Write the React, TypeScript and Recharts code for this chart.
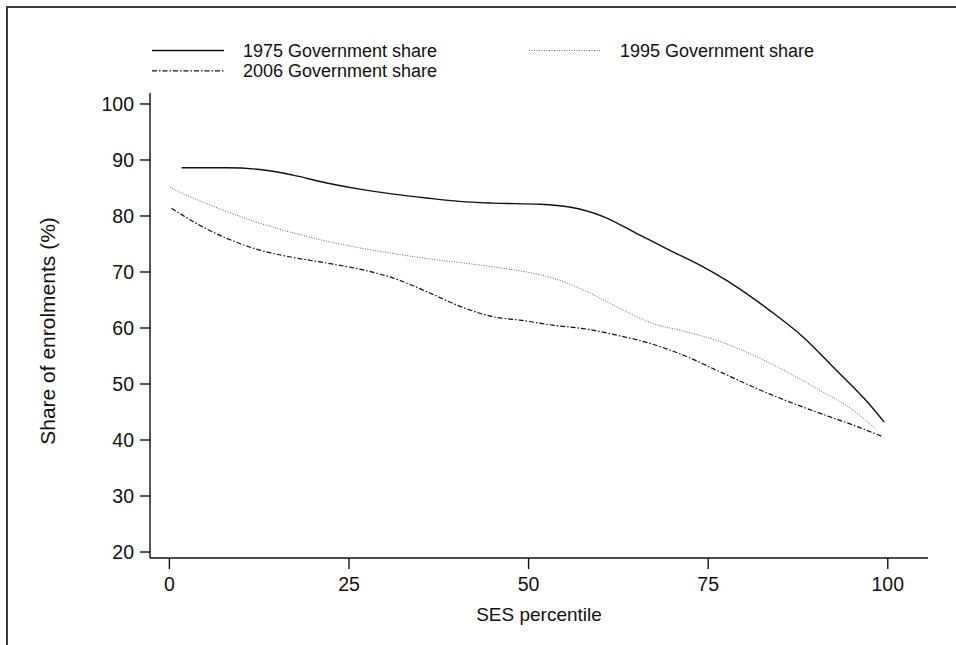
import { CartesianGrid, Legend, Line, LineChart, XAxis, YAxis } from "recharts";

// SES percentile / government share of enrolments (%), per year
const ses1975 = [1.7, 8, 12.6, 17.2, 21.9, 26.5, 31.2, 35.8, 40.4, 45.1, 51.6, 55.7, 60.4, 65.0, 69.6, 74.3, 78.9, 83.5, 88.2, 92.8, 97.5, 99.5];
const gov1975 = [88.6, 88.6, 88.3, 87.3, 85.9, 84.8, 83.9, 83.2, 82.6, 82.3, 82.1, 81.6, 79.9, 76.9, 73.9, 70.9, 67.4, 63.2, 58.4, 52.5, 46.3, 43.2];

const ses1995 = [0.1, 3.3, 8.0, 12.6, 17.2, 21.9, 26.5, 31.2, 35.8, 40.4, 45.1, 48.8, 53.4, 58.1, 62.7, 67.3, 72.0, 76.6, 81.2, 85.9, 90.5, 95.1, 98.4];
const gov1995 = [85.1, 83.2, 80.8, 78.7, 77.0, 75.5, 74.3, 73.3, 72.4, 71.7, 70.9, 70.2, 68.9, 66.5, 63.5, 60.8, 59.3, 57.6, 55.2, 52.2, 48.9, 45.4, 41.9];

const ses2006 = [0.3, 3.3, 8.0, 12.6, 17.2, 21.9, 26.5, 31.2, 35.8, 40.4, 45.1, 48.8, 53.4, 58.1, 62.7, 67.3, 72.0, 76.6, 81.2, 85.9, 90.5, 95.1, 99.3];
const gov2006 = [81.4, 79.0, 76.0, 73.9, 72.6, 71.6, 70.5, 68.9, 66.5, 63.9, 62.0, 61.4, 60.5, 59.8, 58.6, 57.1, 54.9, 52.2, 49.5, 47.0, 44.8, 42.7, 40.6];

const xTicks = [0, 25, 50, 75, 100];
const yTicks = [20, 30, 40, 50, 60, 70, 80, 90, 100];

const toPoints = (xs: number[], ys: number[]) =>
  xs.map((ses, i) => ({ ses, share: ys[i] }));

const data1975 = toPoints(ses1975, gov1975);
const data1995 = toPoints(ses1995, gov1995);
const data2006 = toPoints(ses2006, gov2006);

const FONT = "'Liberation Sans', Arial, Helvetica, sans-serif";

const solid = { stroke: "#111", strokeWidth: 1.4 };
const dotted = { stroke: "#666", strokeWidth: 1, strokeDasharray: "1 1.5" };
const dashDot = { stroke: "#111", strokeWidth: 1.2, strokeDasharray: "5 2 1.5 2" };

const legendKeys = [
  { label: "1975 Government share", x: 152, y: 50.5, style: solid },
  { label: "1995 Government share", x: 529, y: 50.5, style: dotted },
  { label: "2006 Government share", x: 152, y: 70.8, style: dashDot },
];

function Label({
  x,
  y,
  anchor = "start",
  size = 19,
  rotate = 0,
  children,
}: {
  x: number;
  y: number;
  anchor?: "start" | "middle" | "end";
  size?: number;
  rotate?: number;
  children: React.ReactNode;
}) {
  return (
    <text
      x={x}
      y={y}
      transform={rotate ? `rotate(${rotate} ${x} ${y})` : undefined}
      textAnchor={anchor}
      dominantBaseline="central"
      fontFamily={FONT}
      fontSize={size}
      fill="#111"
    >
      {children}
    </text>
  );
}

function renderLegend() {
  return (
    <svg width={956} height={90} style={{ display: "block" }}>
      {legendKeys.map((k) => (
        <g key={k.label}>
          <line x1={k.x} x2={k.x + 72} y1={k.y} y2={k.y} {...k.style} />
          <Label x={k.x + 91} y={k.y} size={18}>
            {k.label}
          </Label>
        </g>
      ))}
    </svg>
  );
}

const XTick = ({ x, y, payload }: any) => (
  <Label x={x} y={y + 15} anchor="middle" size={19.5}>
    {payload.value}
  </Label>
);

const YTick = ({ x, y, payload }: any) => (
  <Label x={x} y={y} anchor="end" size={19.5}>
    {payload.value}
  </Label>
);

export default function App() {
  return (
    <div
      style={{
        position: "absolute",
        left: 0,
        top: 0,
        width: 956,
        height: 645,
        background: "#fff",
        overflow: "hidden",
      }}
    >
      <div
        style={{
          position: "absolute",
          left: 6,
          top: 6,
          right: -4,
          bottom: -4,
          borderTop: "2px solid #3c3c3c",
          borderLeft: "2px solid #3c3c3c",
        }}
      />
      <LineChart
        width={956}
        height={645}
        margin={{ top: 93, right: 28, bottom: 0, left: 0 }}
        style={{ position: "absolute", left: 0, top: 0 }}
      >
        <CartesianGrid stroke="none" fill="none" />
        <XAxis
          type="number"
          dataKey="ses"
          domain={[-2.7, 105.6]}
          ticks={xTicks}
          allowDataOverflow
          height={87}
          tickSize={11}
          tickMargin={0}
          tick={<XTick />}
          axisLine={{ stroke: "#111", strokeWidth: 1.4 }}
          tickLine={{ stroke: "#111", strokeWidth: 1.4 }}
          label={{
            content: ({ viewBox }: any) => (
              <Label x={viewBox.x + viewBox.width / 2} y={614} anchor="middle">
                SES percentile
              </Label>
            ),
          }}
        />
        <YAxis
          type="number"
          dataKey="share"
          domain={[18.93, 101.96]}
          ticks={yTicks}
          allowDataOverflow
          width={150}
          tickSize={10}
          tickMargin={6}
          tick={<YTick />}
          axisLine={{ stroke: "#111", strokeWidth: 1.4 }}
          tickLine={{ stroke: "#111", strokeWidth: 1.4 }}
          label={{
            content: () => (
              <Label x={47} y={331} anchor="middle" size={21} rotate={-90}>
                Share of enrolments (%)
              </Label>
            ),
          }}
        />
        <Legend
          layout="horizontal"
          verticalAlign="middle"
          align="center"
          content={renderLegend}
          wrapperStyle={{ position: "absolute", left: 0, top: 0, width: 956, height: 90 }}
        />
        <Line
          data={data1975}
          dataKey="share"
          type="monotone"
          dot={false}
          activeDot={false}
          isAnimationActive={false}
          {...solid}
        />
        <Line
          data={data1995}
          dataKey="share"
          type="monotone"
          dot={false}
          activeDot={false}
          isAnimationActive={false}
          {...dotted}
        />
        <Line
          data={data2006}
          dataKey="share"
          type="monotone"
          dot={false}
          activeDot={false}
          isAnimationActive={false}
          {...dashDot}
        />
      </LineChart>
    </div>
  );
}
